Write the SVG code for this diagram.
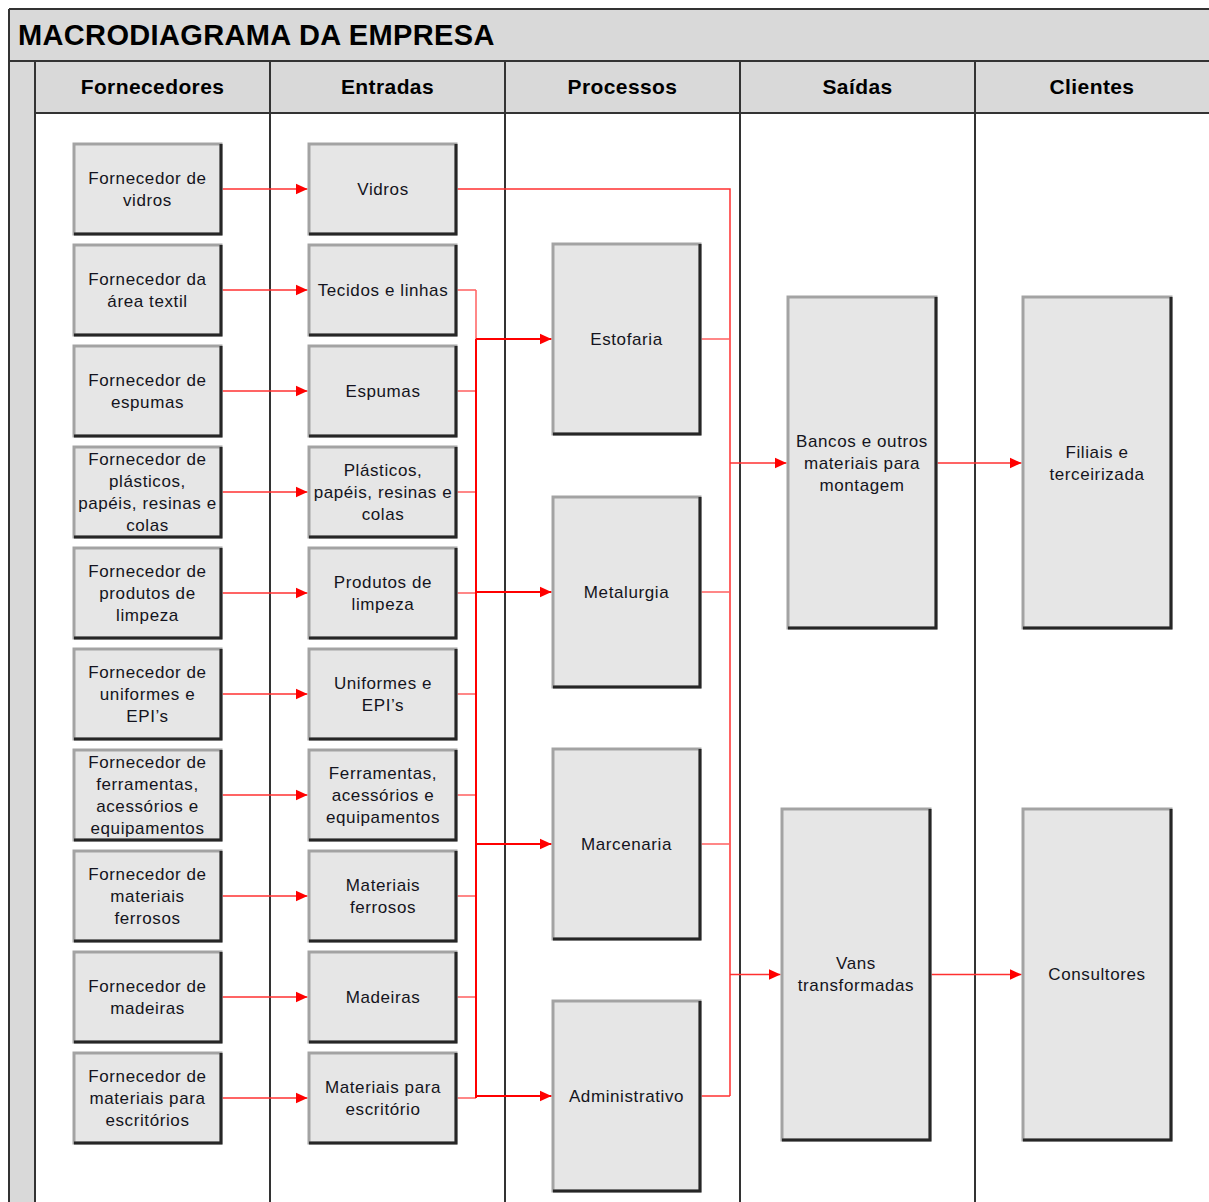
<svg xmlns="http://www.w3.org/2000/svg" width="1209" height="1202" viewBox="0 0 1209 1202">
<defs>
<marker id="arr" markerUnits="userSpaceOnUse" markerWidth="12" markerHeight="12" refX="12" refY="6" orient="auto">
<path d="M0,0.5 L12,6 L0,11.5 z" fill="#ff0000"/>
</marker>
<style>
.band{fill:#d9d9d9}
.frame{stroke:#333;stroke-width:2;fill:none}
.title{font-family:"Liberation Sans",Arial,sans-serif;font-weight:bold;font-size:29px;letter-spacing:0.35px;fill:#000}
.hdr{font-family:"Liberation Sans",Arial,sans-serif;font-weight:bold;font-size:21px;letter-spacing:0.4px;fill:#000;text-anchor:middle}
.box{fill:#e6e6e6;stroke:#a3a3a3;stroke-width:3}
.shade{fill:none;stroke:#262626;stroke-width:3}
.lbl{font-family:"Liberation Sans",Arial,sans-serif;font-size:17px;letter-spacing:0.6px;fill:#141420;text-anchor:middle}
.thin{fill:none;stroke:#ff3030;stroke-width:1.5}
.stub{fill:none;stroke:#ff6060;stroke-width:1.5}
.bold{fill:none;stroke:#ff0000;stroke-width:2}
.arr{marker-end:url(#arr)}
</style>
</defs>
<rect x="0" y="0" width="1209" height="1202" fill="#ffffff"/>
<g id="frame">
<rect class="band" x="9" y="9" width="1210" height="52"/>
<rect class="band" x="9" y="61" width="26" height="1150"/>
<rect class="band" x="35" y="61" width="1180" height="52"/>
<path class="frame" d="M9,9 H1209 M9,9 V1202 M9,61 H1209 M35,61 V1202 M35,113 H1209 M270,61 V1202 M505,61 V1202 M740,61 V1202 M975,61 V1202"/>
<text class="title" x="18" y="45">MACRODIAGRAMA DA EMPRESA</text>
<text class="hdr" x="152.5" y="94">Fornecedores</text>
<text class="hdr" x="387.5" y="94">Entradas</text>
<text class="hdr" x="622.5" y="94">Processos</text>
<text class="hdr" x="857.5" y="94">Saídas</text>
<text class="hdr" x="1092" y="94">Clientes</text>
</g>
<g id="connectors">
<path class="thin arr" d="M222.5,189 H307.5"/>
<path class="thin arr" d="M222.5,290 H307.5"/>
<path class="thin arr" d="M222.5,391 H307.5"/>
<path class="thin arr" d="M222.5,492 H307.5"/>
<path class="thin arr" d="M222.5,593 H307.5"/>
<path class="thin arr" d="M222.5,694 H307.5"/>
<path class="thin arr" d="M222.5,795 H307.5"/>
<path class="thin arr" d="M222.5,896 H307.5"/>
<path class="thin arr" d="M222.5,997 H307.5"/>
<path class="thin arr" d="M222.5,1098 H307.5"/>
<path class="stub" d="M457.5,290 H476 M457.5,391 H476 M457.5,492 H476 M457.5,593 H476 M457.5,694 H476 M457.5,795 H476 M457.5,896 H476 M457.5,997 H476 M457.5,1098 H476"/>
<path class="stub" d="M476,290 V339"/>
<path class="bold" d="M476,339 V1098"/>
<path class="bold arr" d="M476,339 H551.5"/>
<path class="bold arr" d="M476,592 H551.5"/>
<path class="bold arr" d="M476,844 H551.5"/>
<path class="bold arr" d="M476,1096 H551.5"/>
<path class="thin" d="M457.5,189 H730 V1096"/>
<path class="stub" d="M701.5,339 H730 M701.5,592 H730 M701.5,844 H730"/>
<path class="thin" d="M701.5,1096 H730"/>
<path class="thin arr" d="M730,463 H786.5"/>
<path class="thin arr" d="M730,974.5 H780.5"/>
<path class="thin arr" d="M937.5,463 H1021.5"/>
<path class="thin arr" d="M931.5,974.5 H1021.5"/>
</g>
<g id="forn-vidros"><rect class="box" x="74" y="144" width="147" height="90"/><path class="shade" d="M221,144 V234 H74"/><text class="lbl"><tspan x="147.5" y="184">Fornecedor de</tspan><tspan x="147.5" y="206">vidros</tspan></text></g>
<g id="forn-textil"><rect class="box" x="74" y="245" width="147" height="90"/><path class="shade" d="M221,245 V335 H74"/><text class="lbl"><tspan x="147.5" y="285">Fornecedor da</tspan><tspan x="147.5" y="307">área textil</tspan></text></g>
<g id="forn-espumas"><rect class="box" x="74" y="346" width="147" height="90"/><path class="shade" d="M221,346 V436 H74"/><text class="lbl"><tspan x="147.5" y="386">Fornecedor de</tspan><tspan x="147.5" y="408">espumas</tspan></text></g>
<g id="forn-plasticos"><rect class="box" x="74" y="447" width="147" height="90"/><path class="shade" d="M221,447 V537 H74"/><text class="lbl"><tspan x="147.5" y="465">Fornecedor de</tspan><tspan x="147.5" y="487">plásticos,</tspan><tspan x="147.5" y="509">papéis, resinas e</tspan><tspan x="147.5" y="531">colas</tspan></text></g>
<g id="forn-limpeza"><rect class="box" x="74" y="548" width="147" height="90"/><path class="shade" d="M221,548 V638 H74"/><text class="lbl"><tspan x="147.5" y="577">Fornecedor de</tspan><tspan x="147.5" y="599">produtos de</tspan><tspan x="147.5" y="621">limpeza</tspan></text></g>
<g id="forn-uniformes"><rect class="box" x="74" y="649" width="147" height="90"/><path class="shade" d="M221,649 V739 H74"/><text class="lbl"><tspan x="147.5" y="678">Fornecedor de</tspan><tspan x="147.5" y="700">uniformes e</tspan><tspan x="147.5" y="722">EPI’s</tspan></text></g>
<g id="forn-ferramentas"><rect class="box" x="74" y="750" width="147" height="90"/><path class="shade" d="M221,750 V840 H74"/><text class="lbl"><tspan x="147.5" y="768">Fornecedor de</tspan><tspan x="147.5" y="790">ferramentas,</tspan><tspan x="147.5" y="812">acessórios e</tspan><tspan x="147.5" y="834">equipamentos</tspan></text></g>
<g id="forn-ferrosos"><rect class="box" x="74" y="851" width="147" height="90"/><path class="shade" d="M221,851 V941 H74"/><text class="lbl"><tspan x="147.5" y="880">Fornecedor de</tspan><tspan x="147.5" y="902">materiais</tspan><tspan x="147.5" y="924">ferrosos</tspan></text></g>
<g id="forn-madeiras"><rect class="box" x="74" y="952" width="147" height="90"/><path class="shade" d="M221,952 V1042 H74"/><text class="lbl"><tspan x="147.5" y="992">Fornecedor de</tspan><tspan x="147.5" y="1014">madeiras</tspan></text></g>
<g id="forn-escritorio"><rect class="box" x="74" y="1053" width="147" height="90"/><path class="shade" d="M221,1053 V1143 H74"/><text class="lbl"><tspan x="147.5" y="1082">Fornecedor de</tspan><tspan x="147.5" y="1104">materiais para</tspan><tspan x="147.5" y="1126">escritórios</tspan></text></g>
<g id="ent-vidros"><rect class="box" x="309" y="144" width="147" height="90"/><path class="shade" d="M456,144 V234 H309"/><text class="lbl"><tspan x="383" y="195">Vidros</tspan></text></g>
<g id="ent-tecidos"><rect class="box" x="309" y="245" width="147" height="90"/><path class="shade" d="M456,245 V335 H309"/><text class="lbl"><tspan x="383" y="296">Tecidos e linhas</tspan></text></g>
<g id="ent-espumas"><rect class="box" x="309" y="346" width="147" height="90"/><path class="shade" d="M456,346 V436 H309"/><text class="lbl"><tspan x="383" y="397">Espumas</tspan></text></g>
<g id="ent-plasticos"><rect class="box" x="309" y="447" width="147" height="90"/><path class="shade" d="M456,447 V537 H309"/><text class="lbl"><tspan x="383" y="476">Plásticos,</tspan><tspan x="383" y="498">papéis, resinas e</tspan><tspan x="383" y="520">colas</tspan></text></g>
<g id="ent-limpeza"><rect class="box" x="309" y="548" width="147" height="90"/><path class="shade" d="M456,548 V638 H309"/><text class="lbl"><tspan x="383" y="588">Produtos de</tspan><tspan x="383" y="610">limpeza</tspan></text></g>
<g id="ent-uniformes"><rect class="box" x="309" y="649" width="147" height="90"/><path class="shade" d="M456,649 V739 H309"/><text class="lbl"><tspan x="383" y="689">Uniformes e</tspan><tspan x="383" y="711">EPI’s</tspan></text></g>
<g id="ent-ferramentas"><rect class="box" x="309" y="750" width="147" height="90"/><path class="shade" d="M456,750 V840 H309"/><text class="lbl"><tspan x="383" y="779">Ferramentas,</tspan><tspan x="383" y="801">acessórios e</tspan><tspan x="383" y="823">equipamentos</tspan></text></g>
<g id="ent-ferrosos"><rect class="box" x="309" y="851" width="147" height="90"/><path class="shade" d="M456,851 V941 H309"/><text class="lbl"><tspan x="383" y="891">Materiais</tspan><tspan x="383" y="913">ferrosos</tspan></text></g>
<g id="ent-madeiras"><rect class="box" x="309" y="952" width="147" height="90"/><path class="shade" d="M456,952 V1042 H309"/><text class="lbl"><tspan x="383" y="1003">Madeiras</tspan></text></g>
<g id="ent-escritorio"><rect class="box" x="309" y="1053" width="147" height="90"/><path class="shade" d="M456,1053 V1143 H309"/><text class="lbl"><tspan x="383" y="1093">Materiais para</tspan><tspan x="383" y="1115">escritório</tspan></text></g>
<g id="proc-estofaria"><rect class="box" x="553" y="244" width="147" height="190"/><path class="shade" d="M700,244 V434 H553"/><text class="lbl"><tspan x="626.5" y="345">Estofaria</tspan></text></g>
<g id="proc-metalurgia"><rect class="box" x="553" y="497" width="147" height="190"/><path class="shade" d="M700,497 V687 H553"/><text class="lbl"><tspan x="626.5" y="598">Metalurgia</tspan></text></g>
<g id="proc-marcenaria"><rect class="box" x="553" y="749" width="147" height="190"/><path class="shade" d="M700,749 V939 H553"/><text class="lbl"><tspan x="626.5" y="850">Marcenaria</tspan></text></g>
<g id="proc-administrativo"><rect class="box" x="553" y="1001" width="147" height="190"/><path class="shade" d="M700,1001 V1191 H553"/><text class="lbl"><tspan x="626.5" y="1102">Administrativo</tspan></text></g>
<g id="said-bancos"><rect class="box" x="788" y="297" width="148" height="331"/><path class="shade" d="M936,297 V628 H788"/><text class="lbl"><tspan x="862" y="447">Bancos e outros</tspan><tspan x="862" y="469">materiais para</tspan><tspan x="862" y="491">montagem</tspan></text></g>
<g id="said-vans"><rect class="box" x="782" y="809" width="148" height="331"/><path class="shade" d="M930,809 V1140 H782"/><text class="lbl"><tspan x="856" y="969">Vans</tspan><tspan x="856" y="991">transformadas</tspan></text></g>
<g id="cli-filiais"><rect class="box" x="1023" y="297" width="148" height="331"/><path class="shade" d="M1171,297 V628 H1023"/><text class="lbl"><tspan x="1097" y="458">Filiais e</tspan><tspan x="1097" y="480">terceirizada</tspan></text></g>
<g id="cli-consultores"><rect class="box" x="1023" y="809" width="148" height="331"/><path class="shade" d="M1171,809 V1140 H1023"/><text class="lbl"><tspan x="1097" y="980">Consultores</tspan></text></g>
</svg>
